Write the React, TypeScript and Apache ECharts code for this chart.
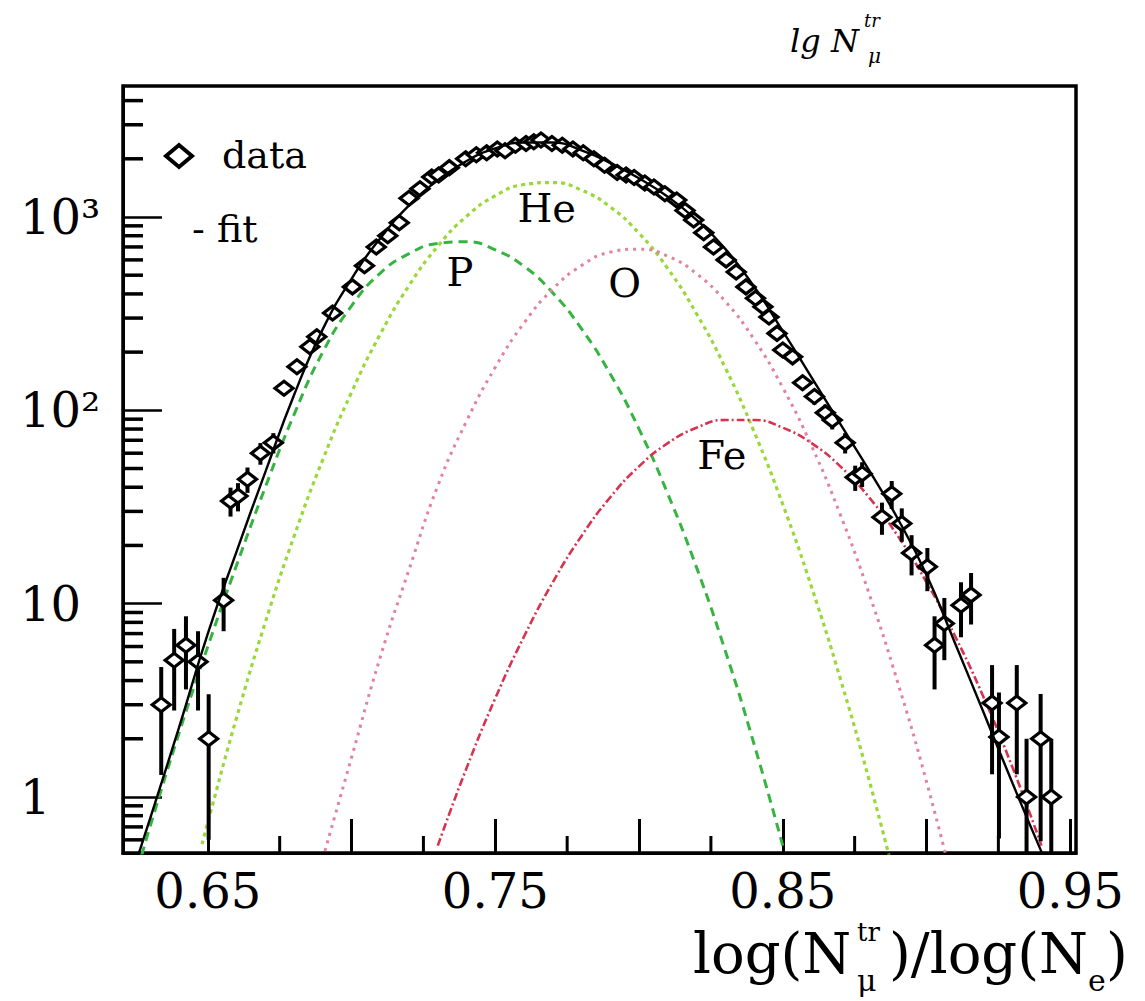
import React, { useEffect, useRef } from 'react';
import * as echarts from 'echarts';

// Total fit: log(N_mu^tr)/log(N_e) positions and counts
const fitX = [0.626, 0.63, 0.64, 0.65, 0.66, 0.67, 0.68, 0.69, 0.70, 0.71, 0.72, 0.73, 0.74, 0.75, 0.76, 0.77, 0.78, 0.79, 0.80, 0.81, 0.82, 0.83, 0.84, 0.85, 0.86, 0.87, 0.88, 0.89, 0.90, 0.91, 0.92, 0.93, 0.94, 0.942];
const fitY = [0.51, 0.78, 2.29, 7.0, 18.6, 47.9, 120, 263, 479, 776, 1148, 1549, 1950, 2265, 2427, 2427, 2213, 1905, 1585, 1274, 966, 684, 437, 257, 148, 85, 49, 27.5, 14.1, 6.2, 2.7, 1.17, 0.52, 0.45];

// Primary components
const pX = [0.627, 0.63, 0.64, 0.65, 0.66, 0.67, 0.68, 0.69, 0.70, 0.71, 0.72, 0.73, 0.74, 0.75, 0.76, 0.77, 0.78, 0.79, 0.80, 0.81, 0.82, 0.83, 0.84, 0.85];
const pY = [0.5, 0.71, 2.14, 6.0, 15.8, 40, 95, 200, 347, 513, 646, 730, 745, 676, 556, 405, 264, 154, 80, 37, 15.4, 5.7, 1.88, 0.56];

const heX = [0.648, 0.65, 0.66, 0.67, 0.68, 0.69, 0.70, 0.71, 0.72, 0.73, 0.74, 0.75, 0.76, 0.77, 0.78, 0.79, 0.80, 0.81, 0.82, 0.83, 0.84, 0.85, 0.86, 0.87, 0.88, 0.89];
const heY = [0.57, 0.74, 2.57, 8.0, 22.3, 55.6, 124, 248, 442, 706, 1009, 1288, 1472, 1507, 1377, 1127, 824, 541, 316, 166, 77.6, 32.6, 12.2, 4.1, 1.23, 0.33];

const oX = [0.69, 0.70, 0.71, 0.72, 0.73, 0.74, 0.75, 0.76, 0.77, 0.78, 0.79, 0.80, 0.81, 0.82, 0.83, 0.84, 0.85, 0.86, 0.87, 0.88, 0.89, 0.90, 0.91];
const oY = [0.48, 1.6, 5.3, 15, 40.7, 87.9, 167, 283, 424, 561, 658, 682, 627, 509, 366, 233, 131, 65.5, 28.9, 11.3, 3.91, 1.2, 0.32];

const feX = [0.73, 0.74, 0.75, 0.76, 0.77, 0.78, 0.79, 0.80, 0.81, 0.82, 0.83, 0.84, 0.85, 0.86, 0.87, 0.88, 0.89, 0.90, 0.91, 0.92, 0.93, 0.94];
const feY = [0.56, 1.41, 3.24, 6.76, 12.9, 22.4, 35.5, 51.3, 67.6, 81.3, 89.1, 89.1, 81.3, 67.6, 51.3, 35.5, 22.4, 12.9, 6.76, 3.24, 1.41, 0.56];

// Measured distribution with statistical errors
const dataX = [0.6338, 0.6383, 0.6424, 0.6466, 0.6503, 0.6555, 0.6579, 0.6605, 0.6638, 0.6683, 0.6728, 0.6765, 0.681, 0.6855, 0.6879, 0.6934, 0.7003, 0.7045, 0.7086, 0.7126, 0.7166, 0.72, 0.7238, 0.7279, 0.7303, 0.734, 0.7397, 0.7434, 0.747, 0.7507, 0.7534, 0.757, 0.7607, 0.7634, 0.7659, 0.7697, 0.7733, 0.777, 0.7806, 0.7843, 0.788, 0.7924, 0.7955, 0.7983, 0.802, 0.8052, 0.809, 0.8131, 0.816, 0.819, 0.8225, 0.8259, 0.8303, 0.8338, 0.8372, 0.8405, 0.8431, 0.8452, 0.848, 0.85, 0.8534, 0.8569, 0.861, 0.8648, 0.8672, 0.8717, 0.8752, 0.8776, 0.8845, 0.8879, 0.8914, 0.8948, 0.9003, 0.9028, 0.9062, 0.912, 0.9155, 0.9228, 0.9252, 0.9314, 0.9348, 0.9397, 0.9434];
const dataY = [3.0, 5.1, 6.1, 5.0, 2.0, 10.4, 34, 36, 44, 60, 68, 130, 168, 213, 240, 319, 435, 560, 700, 800, 933, 1250, 1400, 1611, 1650, 1800, 2000, 2100, 2150, 2250, 2200, 2350, 2400, 2450, 2500, 2400, 2350, 2250, 2150, 2000, 1850, 1700, 1650, 1600, 1500, 1430, 1320, 1225, 1080, 966, 830, 700, 600, 520, 435, 380, 343, 304, 250, 205, 189, 139, 118, 97, 89, 68, 45, 47, 28, 37, 26, 18.3, 15.5, 6.1, 7.9, 9.8, 11.1, 3.06, 2.04, 3.06, 1.0, 2.0, 1.0];
const dataErr = [1.7, 2.3, 2.5, 2.2, 1.4, 3.2, 5.8, 6.0, 6.6, 7.7, 8.2, 11, 13, 15, 15, 18, 21, 24, 26, 28, 31, 35, 37, 40, 41, 42, 45, 46, 46, 47, 47, 48, 49, 49, 50, 49, 48, 47, 46, 45, 43, 41, 41, 40, 39, 38, 36, 35, 33, 31, 29, 26, 24, 23, 21, 19, 19, 17, 16, 14, 14, 12, 11, 10, 9.4, 8.2, 6.7, 6.9, 5.3, 6.1, 5.1, 4.3, 3.9, 2.5, 2.8, 3.1, 3.3, 1.75, 1.43, 1.75, 1.0, 1.41, 1.0];

// Component name tags, placed in data coordinates
const tagNames = ['He', 'P', 'O', 'Fe'];
const tagX = [0.7679, 0.7377, 0.795, 0.8288];
const tagY = [1114, 520, 456, 58.8];

// Axis ranges and tick positions
const X_MIN = 0.6205;
const X_MAX = 0.952;
const Y_MIN = 0.513;
const Y_MAX = 4760;
const xLabelValues = [0.65, 0.75, 0.85, 0.95];
const xMinorTicks = [0.675, 0.725, 0.775, 0.825, 0.875, 0.925];
const yMinorTicks = [0.6, 0.7, 0.8, 0.9, 2, 3, 4, 5, 6, 7, 8, 9, 20, 30, 40, 50, 60, 70, 80, 90, 200, 300, 400, 500, 600, 700, 800, 900, 2000, 3000, 4000];

const SERIF = '"DejaVu Serif", "Liberation Serif", serif';

const zip = (xs: number[], ys: number[]) => xs.map((x, i) => [x, ys[i]]);

function buildOption(): any {
  const comp = (name: string, xs: number[], ys: number[], color: string, dash: number[], width: number) => ({
    type: 'line',
    name,
    data: zip(xs, ys),
    smooth: true,
    showSymbol: false,
    symbol: 'none',
    clip: true,
    z: 2,
    lineStyle: { color, width, type: dash },
    silent: true,
  });

  const txt = (text: string, x: number, y: number, size: number, italic = false) => ({
    type: 'text',
    x,
    y,
    z: 10,
    style: {
      text,
      fontFamily: SERIF,
      fontStyle: italic ? 'italic' : 'normal',
      fontSize: size,
      fill: '#000',
      align: 'left',
      verticalAlign: 'middle',
    },
  });

  return {
    animation: false,
    backgroundColor: '#ffffff',
    grid: {
      left: 123,
      top: 86,
      width: 953,
      height: 767,
      show: true,
      borderColor: '#000',
      borderWidth: 3.5,
      backgroundColor: 'transparent',
      containLabel: false,
      outerBoundsMode: 'none',
    },
    xAxis: {
      type: 'value',
      min: X_MIN,
      max: X_MAX,
      splitNumber: 6,
      axisLine: { show: true, lineStyle: { color: '#000', width: 3 } },
      axisTick: { show: true, inside: true, length: 34, lineStyle: { color: '#000', width: 3 } },
      axisLabel: {
        show: true,
        showMinLabel: false,
        showMaxLabel: false,
        margin: 14,
        color: '#000',
        fontFamily: SERIF,
        fontSize: 48,
        formatter: (v: number) => (xLabelValues.some((t) => Math.abs(t - v) < 1e-6) ? v.toFixed(2) : ''),
      },
      splitLine: { show: false },
    },
    yAxis: {
      type: 'log',
      logBase: 10,
      min: Y_MIN,
      max: Y_MAX,
      axisLine: { show: true, lineStyle: { color: '#000', width: 3 } },
      axisTick: { show: true, inside: true, length: 39, lineStyle: { color: '#000', width: 2.5 } },
      axisLabel: {
        show: true,
        showMinLabel: false,
        showMaxLabel: false,
        align: 'left',
        margin: 103,
        color: '#000',
        fontFamily: SERIF,
        fontSize: 48,
        formatter: (v: number) => {
          const e = Math.log10(v);
          const r = Math.round(e);
          if (Math.abs(e - r) > 0.01) return '';
          return ['1', '10', '10²', '10³', '10⁴'][r] ?? '';
        },
      },
      splitLine: { show: false },
    },
    series: [
      // short ticks on the y axis (2..9 of each decade)
      {
        type: 'custom',
        name: 'yMinorTicks',
        silent: true,
        z: 5,
        data: yMinorTicks.map((v) => [X_MIN, v]),
        renderItem: (params: any, api: any) => {
          const p = api.coord([X_MIN, api.value(1)]);
          return {
            type: 'line',
            shape: { x1: p[0], y1: p[1], x2: p[0] + 20, y2: p[1] },
            style: { stroke: '#000', lineWidth: 3.5 },
          };
        },
      },
      // short ticks on the x axis
      {
        type: 'custom',
        name: 'xMinorTicks',
        silent: true,
        z: 5,
        data: xMinorTicks.map((v) => [v, Y_MIN]),
        renderItem: (params: any, api: any) => {
          const p = api.coord([api.value(0), Y_MIN]);
          return {
            type: 'line',
            shape: { x1: p[0], y1: p[1], x2: p[0], y2: p[1] - 17 },
            style: { stroke: '#000', lineWidth: 3 },
          };
        },
      },
      comp('P', pX, pY, '#35b441', [9, 6], 3),
      comp('He', heX, heY, '#9ad83a', [4, 4], 3.2),
      comp('O', oX, oY, '#e0839b', [3, 5], 3),
      comp('Fe', feX, feY, '#d5334f', [8, 3, 2, 3], 2.6),
      {
        type: 'custom',
        name: 'data',
        z: 3,
        data: dataX.map((x, i) => [x, dataY[i], dataErr[i]]),
        renderItem: (params: any, api: any) => {
          const x = api.value(0);
          const y = api.value(1);
          const e = api.value(2);
          const cs = params.coordSys;
          const top = cs.y;
          const bottom = cs.y + cs.height;
          const clampY = (v: number) => Math.max(top, Math.min(bottom, v));
          const c = api.coord([x, y]);
          const hi = api.coord([x, y + e])[1];
          const lo = y - e > 0.05 ? api.coord([x, y - e])[1] : bottom;
          const hw = 9;
          const hh = 7;
          return {
            type: 'group',
            children: [
              {
                type: 'line',
                shape: { x1: c[0], y1: clampY(hi), x2: c[0], y2: clampY(lo) },
                style: { stroke: '#000', lineWidth: 4 },
              },
              {
                type: 'polygon',
                shape: { points: [[c[0] - hw, c[1]], [c[0], c[1] - hh], [c[0] + hw, c[1]], [c[0], c[1] + hh]] },
                style: { fill: '#fff', stroke: '#000', lineWidth: 3.2 },
              },
            ],
          };
        },
      },
      {
        type: 'line',
        name: 'fit',
        data: zip(fitX, fitY),
        smooth: true,
        showSymbol: false,
        symbol: 'none',
        clip: true,
        z: 4,
        lineStyle: { color: '#000', width: 2.4, type: 'solid' },
        silent: true,
      },
      {
        type: 'scatter',
        name: 'tags',
        z: 6,
        silent: true,
        symbolSize: 1,
        itemStyle: { color: '#fff', opacity: 0 },
        data: tagNames.map((n, i) => [tagX[i], tagY[i], n]),
        label: {
          show: true,
          position: 'inside',
          formatter: (p: any) => p.data[2],
          color: '#000',
          opacity: 1,
          textBorderWidth: 0,
          fontFamily: SERIF,
          fontSize: 40,
        },
      },
    ],
    graphic: [
      // legend
      {
        type: 'polygon',
        shape: { points: [[166, 156], [179, 145], [192, 156], [179, 167]] },
        style: { fill: '#fff', stroke: '#000', lineWidth: 4 },
        z: 10,
      },
      txt('data', 222, 155, 38),
      txt('- fit', 192, 229, 38),
      // x-axis title: log(N^tr_mu)/log(N_e)
      txt('log(N', 693, 953, 56),
      txt('tr', 857, 932, 26),
      txt('μ', 857, 980, 30),
      txt(')/log(N', 889, 953, 56),
      txt('e', 1088, 980, 30),
      txt(')', 1106, 953, 56),
      // top caption: lg N^tr_mu
      txt('lg N', 790, 41, 32, true),
      txt('tr', 864, 20, 18, true),
      txt('μ', 868, 56, 20, true),
    ],
  };
}

export default function App() {
  const ref = useRef<HTMLDivElement>(null);
  useEffect(() => {
    if (!ref.current) return;
    const chart = echarts.init(ref.current, undefined, { renderer: 'svg' });
    chart.setOption(buildOption());
    return () => {
      chart.dispose();
    };
  }, []);
  return (
    <div
      ref={ref}
      style={{ position: 'absolute', left: 0, top: 0, width: 1145, height: 1001, background: '#fff' }}
    />
  );
}
